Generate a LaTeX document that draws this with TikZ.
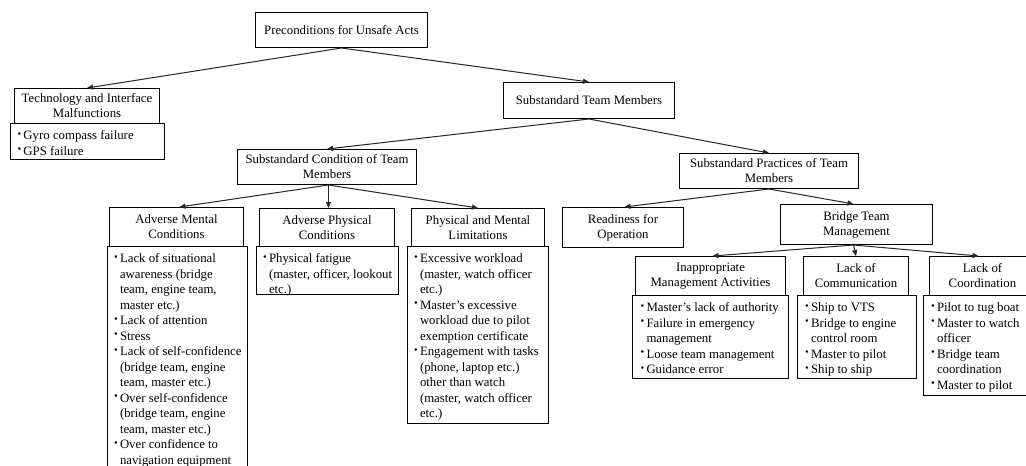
\documentclass[tikz,border=0pt]{standalone}
\usepackage{fontspec}
\setmainfont{Liberation Serif}
\usetikzlibrary{arrows.meta}

% bullet and continuation indent for the item lists
\newcommand\bul{\makebox[6pt][l]{\raisebox{2.3pt}{\fontsize{10.5}{10.5}\selectfont •}}}
\newcommand\ind{\hspace*{6pt}}
% list body: #1 box width, #2 box height, #3 left padding, #4 lines
\newcommand\itemlist[4]{\hspace*{#3pt}\parbox[c][#2pt][t]{\dimexpr#1pt-#3pt\relax}{\raggedright\rule{0pt}{16pt}#4}}

\tikzset{
  hdr/.style={draw, line width=1pt, fill=white, align=center, inner sep=0pt,
    anchor=north west, font=\fontsize{12.8}{15}\selectfont},
  lstbox/.style={draw, line width=1pt, fill=white, inner sep=0pt,
    anchor=north west, font=\fontsize{12.8}{15.5}\selectfont},
  link/.style={-{Triangle[length=6pt,width=5pt]}, line width=1pt, draw=black!85}
}

\begin{document}
\begin{tikzpicture}[x=1pt,y=-1pt]
\useasboundingbox (0,0) rectangle (1026,466);
\fill[white] (0,0) rectangle (1026,466);
\clip (0,0) rectangle (1026,466);

% top level
\node[hdr, minimum width=172pt, minimum height=35pt] (pre) at (255,12) {Preconditions for Unsafe Acts};

% technology branch
\node[hdr, minimum width=145pt, minimum height=35pt] (tech) at (14,88) {Technology and Interface\\Malfunctions};
\node[lstbox, minimum width=154pt, minimum height=36pt] (techL) at (10,123)
  {\itemlist{154}{36}{7}{\bul Gyro compass failure\\ \bul GPS failure}};

% team members branch
\node[hdr, minimum width=171pt, minimum height=36pt] (stm) at (503,82) {Substandard Team Members};
\node[hdr, minimum width=179pt, minimum height=35pt] (sctm) at (237,149) {Substandard Condition of Team\\Members};
\node[hdr, minimum width=179pt, minimum height=35pt] (sptm) at (679,153) {Substandard Practices of Team\\Members};

% conditions of team members
\node[hdr, minimum width=134pt, minimum height=39pt] (am) at (109,207) {Adverse Mental\\Conditions};
\node[lstbox, minimum width=140pt, minimum height=240pt] (amL) at (107,246)
  {\itemlist{140}{240}{6.5}{\bul Lack of situational\\ \ind awareness (bridge\\ \ind team, engine team,\\ \ind master etc.)\\
   \bul Lack of attention\\ \bul Stress\\ \bul Lack of self-confidence\\ \ind (bridge team, engine\\ \ind team, master etc.)\\
   \bul Over self-confidence\\ \ind (bridge team, engine\\ \ind team, master etc.)\\ \bul Over confidence to\\ \ind navigation equipment}};

\node[hdr, minimum width=135pt, minimum height=38pt] (ap) at (259,208) {Adverse Physical\\Conditions};
\node[lstbox, minimum width=142pt, minimum height=48pt] (apL) at (256,246)
  {\itemlist{142}{48}{6.5}{\bul Physical fatigue\\ \ind (master, officer, lookout\\ \ind etc.)}};

\node[hdr, minimum width=133pt, minimum height=38pt] (pml) at (411,208) {Physical and Mental\\Limitations};
\node[lstbox, minimum width=141pt, minimum height=177pt] (pmlL) at (407,246)
  {\itemlist{141}{177}{6.5}{\bul Excessive workload\\ \ind (master, watch officer\\ \ind etc.)\\
   \bul Master’s excessive\\ \ind workload due to pilot\\ \ind exemption certificate\\
   \bul Engagement with tasks\\ \ind (phone, laptop etc.)\\ \ind other than watch\\ \ind (master, watch officer\\ \ind etc.)}};

% practices of team members
\node[hdr, minimum width=121pt, minimum height=40pt] (rfo) at (562,207) {Readiness for\\Operation};
\node[hdr, minimum width=152pt, minimum height=40pt] (btm) at (780,204) {Bridge Team\\Management};

\node[hdr, minimum width=150pt, minimum height=39pt] (ima) at (635,256) {Inappropriate\\Management Activities};
\node[lstbox, minimum width=156pt, minimum height=83pt] (imaL) at (632,295)
  {\itemlist{156}{83}{8}{\bul Master’s lack of authority\\ \bul Failure in emergency\\ \ind management\\
   \bul Loose team management\\ \bul Guidance error}};

\node[hdr, minimum width=105pt, minimum height=39pt] (lcm) at (803,256) {Lack of\\Communication};
\node[lstbox, minimum width=119pt, minimum height=83pt] (lcmL) at (797,295)
  {\itemlist{119}{83}{7.5}{\bul Ship to VTS\\ \bul Bridge to engine\\ \ind control room\\ \bul Master to pilot\\ \bul Ship to ship}};

\node[hdr, minimum width=106pt, minimum height=39pt] (lcd) at (929,256) {Lack of\\Coordination};
\node[lstbox, minimum width=117pt, minimum height=100pt] (lcdL) at (923,295)
  {\itemlist{117}{100}{7.5}{\bul Pilot to tug boat\\ \bul Master to watch\\ \ind officer\\ \bul Bridge team\\ \ind coordination\\ \bul Master to pilot}};

% connectors
\draw[link] (pre.south) -- (tech.north);
\draw[link] (pre.south) -- (stm.north);
\draw[link] (stm.south) -- (sctm.north);
\draw[link] (stm.south) -- (sptm.north);
\draw[link] ([xshift=1.5pt]sctm.south) -- ([xshift=3pt]am.north);
\draw[link] ([xshift=1.5pt]sctm.south) -- ([xshift=1.5pt]ap.north);
\draw[link] ([xshift=1.5pt]sctm.south) -- (pml.north);
\draw[link] (sptm.south) -- ([xshift=1.5pt]rfo.north);
\draw[link] (sptm.south) -- ([xshift=-3pt]btm.north);
\draw[link] ([xshift=-3pt]btm.south) -- ([xshift=2pt]ima.north);
\draw[link] ([xshift=-3pt]btm.south) -- (lcm.north);
\draw[link] ([xshift=-3pt]btm.south) -- ([xshift=-4pt]lcd.north);
\end{tikzpicture}
\end{document}
